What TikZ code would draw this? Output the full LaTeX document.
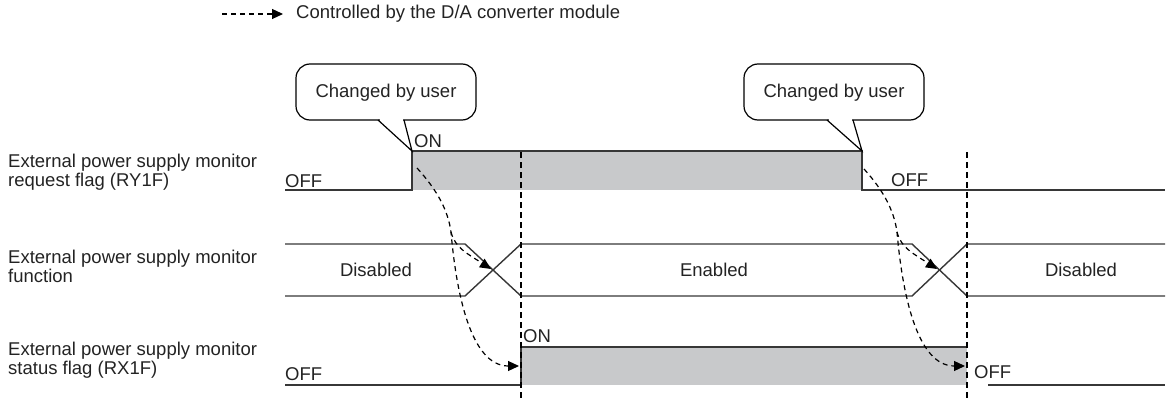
\documentclass[tikz,border=0pt]{standalone}
\usepackage{fontspec}
\setmainfont{Liberation Sans}
\usetikzlibrary{arrows.meta}
\definecolor{shadec}{RGB}{200,201,203}
\definecolor{linec}{RGB}{55,55,55}
\definecolor{txtc}{RGB}{35,35,35}
\begin{document}
\begin{tikzpicture}[x=1pt,y=-1pt,
  sig/.style={draw=linec,line width=1.4pt},
  vdash/.style={draw=black,line width=1.2pt,dash pattern=on 6pt off 4pt},
  ctrl/.style={draw=black,line width=1.2pt,dash pattern=on 5pt off 4pt,-{Triangle[length=11pt,width=10pt]}},
  txt/.style={text=txtc,font=\fontsize{18.5}{19}\selectfont,inner sep=0pt},
  lbl/.style={txt,align=left,anchor=west},
  lvl/.style={txt,anchor=base west},
  callout/.style={draw=black,line width=1.2pt}]
\useasboundingbox (0,0) rectangle (1172,401);

% legend
\coordinate (lg0) at (222,14);
\coordinate (lg1) at (283,14);
\draw[ctrl] (lg0) -- (lg1);
\node[txt,anchor=west] (lgt) at (296,14) {Controlled by the D/A converter module};

% left labels
\node[lbl] (l1) at (8,172) {External power supply monitor\\request flag (RY1F)};
\node[lbl] (l2) at (8,266) {External power supply monitor\\function};
\node[lbl] (l3) at (8,360) {External power supply monitor\\status flag (RX1F)};

% row 1
\fill[shadec] (412,151) rectangle (862,190);
\draw[sig] (285,190) -- (412,190) -- (412,151) -- (862,151) -- (862,190) -- (1165,190);
\node[lvl] (off1) at (285,187) {OFF};
\node[lvl] (on1) at (414,147) {ON};
\node[lvl] (off2) at (891,186) {OFF};

% row 2
\draw[sig] (285,244) -- (465,244) -- (521,296) -- (912,296) -- (967,244) -- (1165,244);
\draw[sig] (285,296) -- (465,296) -- (521,244) -- (912,244) -- (967,296) -- (1165,296);
\node[txt] (dis1) at (376,270) {Disabled};
\node[txt] (en) at (714,270) {Enabled};
\node[txt] (dis2) at (1081,270) {Disabled};

% row 3
\fill[shadec] (521,347) rectangle (967,385);
\draw[sig] (285,385) -- (521,385) -- (521,347) -- (967,347);
\draw[sig] (988,385) -- (1165,385);
\node[lvl] (off3) at (285,380) {OFF};
\node[lvl] (on3) at (523,342) {ON};
\node[lvl] (off4) at (974,378) {OFF};

% vertical dashed lines
\draw[vdash] (521,152) -- (521,401);
\draw[vdash] (967,152) -- (967,401);

% callouts
\draw[callout,fill=white,rounded corners=14pt] (296,64) rectangle (476,120);
\fill[white] (379.5,118.5) rectangle (402.5,121.8);
\draw[callout,line join=miter] (378,120) -- (412,151) -- (404,120);
\node[txt] (cb1) at (386,93) {Changed by user};

\draw[callout,fill=white,rounded corners=14pt] (744,64) rectangle (924,120);
\fill[white] (828.5,118.5) rectangle (851.5,121.8);
\draw[callout,line join=miter] (827,120) -- (862,151) -- (853,120);
\node[txt] (cb2) at (834,93) {Changed by user};

% controlled transitions (left)
\coordinate (s1) at (417,168);
\coordinate (k1) at (451,232);
\coordinate (x1) at (491,269);
\coordinate (t1) at (519,366);
\draw[ctrl] (s1) .. controls (437,190) and (448,210) .. (k1) .. controls (456,290) and (470,366) .. (t1);
\draw[ctrl] (k1) .. controls (455,248) and (468,254) .. (x1);

% controlled transitions (right)
\coordinate (s2) at (864,169);
\coordinate (k2) at (897,232);
\coordinate (x2) at (937,269);
\coordinate (t2) at (965,366);
\draw[ctrl] (s2) .. controls (883,190) and (894,210) .. (k2) .. controls (902,290) and (916,366) .. (t2);
\draw[ctrl] (k2) .. controls (901,248) and (914,254) .. (x2);
\end{tikzpicture}
\end{document}
